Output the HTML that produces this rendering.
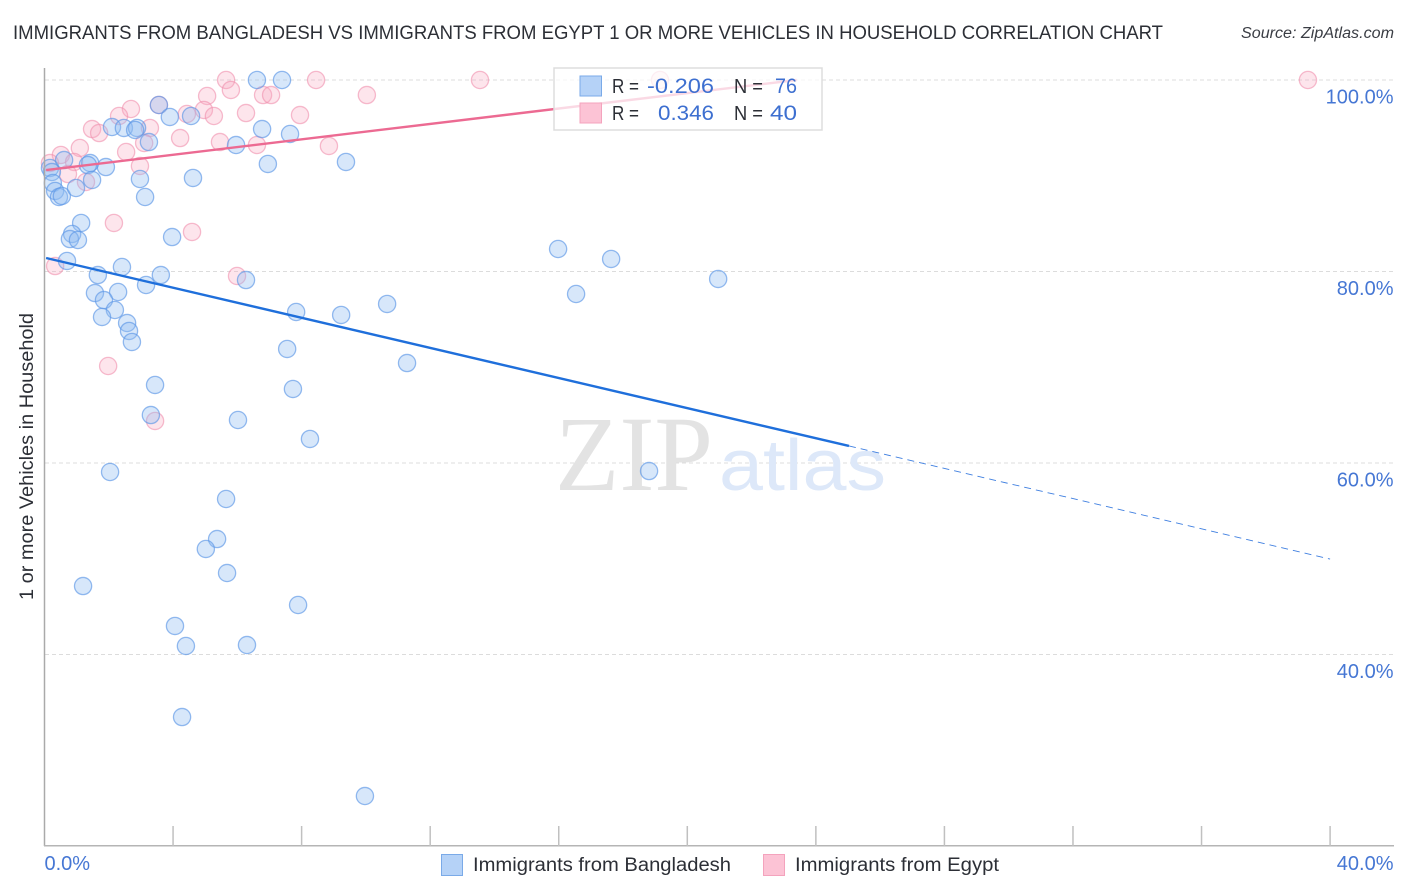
<!DOCTYPE html>
<html lang="en">
<head>
<meta charset="utf-8">
<title>Immigrants from Bangladesh vs Immigrants from Egypt Correlation Chart</title>
<style>
html,body{margin:0;padding:0;background:#fff;}
svg{display:block;font-family:"Liberation Sans",sans-serif;}
</style>
</head>
<body>
<svg id="chart" xmlns="http://www.w3.org/2000/svg" width="1406" height="892" viewBox="0 0 1406 892">
  <rect x="0" y="0" width="1406" height="892" fill="#ffffff"/>
  <text x="13" y="39" font-size="19.5" fill="#2c2f36" textLength="1150" lengthAdjust="spacingAndGlyphs">IMMIGRANTS FROM BANGLADESH VS IMMIGRANTS FROM EGYPT 1 OR MORE VEHICLES IN HOUSEHOLD CORRELATION CHART</text>
  <text x="1241" y="38" font-size="15.5" font-style="italic" fill="#3a3d44" textLength="153" lengthAdjust="spacingAndGlyphs">Source: ZipAtlas.com</text>
  <g id="grid"></g>
  <g>
    <text x="555" y="490" font-family="'Liberation Serif',serif" font-size="107" fill="#e3e3e3" textLength="158" lengthAdjust="spacingAndGlyphs">ZIP</text>
    <text x="719" y="490" font-size="72" fill="#dde8f9" textLength="167" lengthAdjust="spacingAndGlyphs">atlas</text>
  </g>
  <g id="pink-points"></g>
  <g id="blue-points"></g>
  <g id="trends"></g>
  <g id="axes"></g>
  <text transform="translate(33,456.5) rotate(-90)" text-anchor="middle" font-size="19" fill="#2c2f36" textLength="287" lengthAdjust="spacingAndGlyphs">1 or more Vehicles in Household</text>

  <g>
    <rect x="554" y="68" width="268" height="62" fill="#ffffff" fill-opacity="0.75" stroke="#dddddd" stroke-width="1.5"/>
    <rect x="580" y="76" width="21.5" height="20" fill="#b5d2f7" stroke="#7aaae8" stroke-width="1"/>
    <rect x="580" y="103" width="21.5" height="20" fill="#fcc3d5" stroke="#f4a3bd" stroke-width="1"/>
    <g font-size="20" fill="#2c2f36">
      <text x="612" y="93" textLength="27" lengthAdjust="spacingAndGlyphs">R =</text>
      <text x="734" y="93" textLength="29" lengthAdjust="spacingAndGlyphs">N =</text>
      <text x="612" y="120" textLength="27" lengthAdjust="spacingAndGlyphs">R =</text>
      <text x="734" y="120" textLength="29" lengthAdjust="spacingAndGlyphs">N =</text>
    </g>
    <g font-size="21" fill="#3d6fd0">
      <text x="647" y="93" textLength="67" lengthAdjust="spacingAndGlyphs">-0.206</text>
      <text x="775" y="93" textLength="22" lengthAdjust="spacingAndGlyphs">76</text>
      <text x="658" y="120" textLength="56" lengthAdjust="spacingAndGlyphs">0.346</text>
      <text x="770" y="120" textLength="27" lengthAdjust="spacingAndGlyphs">40</text>
    </g>
  </g>

  <g>
    <rect x="441.5" y="854.5" width="21" height="21" fill="#b5d2f7" stroke="#7aaae8" stroke-width="1"/>
    <text x="473" y="871" font-size="19" fill="#2c2f36" textLength="258" lengthAdjust="spacingAndGlyphs">Immigrants from Bangladesh</text>
    <rect x="763.5" y="854.5" width="21" height="21" fill="#fcc3d5" stroke="#f4a3bd" stroke-width="1"/>
    <text x="795" y="871" font-size="19" fill="#2c2f36" textLength="204" lengthAdjust="spacingAndGlyphs">Immigrants from Egypt</text>
  </g>
</svg>
<script>
var bangladeshX = [6.61,7.39,3.56,3.90,4.56,2.10,2.47,2.88,2.82,6.77,7.64,3.25,5.96,6.95,9.38,1.42,1.35,1.91,4.62,2.97,1.48,0.17,0.23,0.26,0.33,0.45,0.54,0.98,0.61,3.13,1.14,0.86,0.79,1.04,3.97,0.70,2.41,1.66,3.62,3.16,1.57,2.29,1.85,6.27,2.19,1.79,2.57,2.63,2.72,7.83,9.23,10.66,7.55,11.28,3.44,7.73,3.31,6.02,8.26,2.04,5.65,5.37,5.02,5.68,1.20,7.89,4.06,4.40,6.30,4.28,9.97,15.98,17.63,16.54,20.96,18.81];
var bangladeshY = [100,100,97.39,96.14,96.24,95.09,94.99,94.99,94.78,94.88,94.36,93.52,93.21,91.23,91.44,91.33,91.12,90.91,89.77,89.66,89.56,90.81,90.39,89.24,88.41,87.78,87.89,88.72,91.64,87.78,85.07,83.92,83.39,83.29,83.60,81.10,80.47,79.63,79.63,78.59,77.75,77.86,77.02,79.11,75.98,75.25,74.62,73.79,72.64,75.77,75.46,76.61,71.91,70.44,68.15,67.73,65.01,64.49,62.51,59.06,56.24,52.06,51.02,48.51,47.15,45.17,42.98,40.89,40.99,33.47,25.22,82.35,81.31,77.65,79.22,59.16];
var egyptX = [5.65,5.80,5.06,6.80,7.05,8.45,2.69,2.32,3.56,4.43,4.96,5.27,6.27,7.95,3.28,1.48,1.70,3.10,4.22,5.46,6.61,8.85,1.10,2.54,2.97,0.51,0.92,0.73,1.29,0.17,2.16,4.59,0.33,5.99,1.98,3.44,10.03,13.55,19.15,39.31];
var egyptY = [100,98.96,98.33,98.43,98.43,100,96.97,96.24,97.39,96.45,96.87,96.24,96.55,96.34,94.99,94.88,94.46,93.42,93.94,93.52,93.21,93.11,92.90,92.48,91.02,92.17,91.44,90.18,89.35,91.33,85.07,84.13,80.57,79.53,70.13,64.39,98.43,100,100,100];
var bangladeshTrendX = [0.05,25.03];
var bangladeshTrendY = [81.41,61.78];
var bangladeshForecastX = [25.03,40];
var bangladeshForecastY = [61.78,49.97];
var egyptTrendX = [0.05,23.4];
var egyptTrendY = [90.6,100];
var yTickValues = [100,80,60,40];
var yTickLabels = ['100.0%','80.0%','60.0%','40.0%'];
var xTickValues = [4,8,12,16,20,24,28,32,36,40];
var xEndValues = [0,40];
var xEndLabels = ['0.0%','40.0%'];

var SVG_NS = 'http://www.w3.org/2000/svg';
function xScale(v){ return 44.5 + v * 32.14; }
function yScale(v){ return 80 + (100 - v) * 9.575; }
function make(tag, parent, attrs){
  var el = document.createElementNS(SVG_NS, tag);
  for (var k in attrs) el.setAttribute(k, attrs[k]);
  parent.appendChild(el);
  return el;
}

var grid = document.getElementById('grid');
var axes = document.getElementById('axes');
yTickValues.forEach(function(v, i){
  var line = make('line', grid, {x1:45, x2:1393, y1:yScale(v), y2:yScale(v), stroke:'#dcdcdc', 'stroke-width':1, 'stroke-dasharray':'4 3'});
  
  
  var label = make('text', axes, {x:1393.5, y:yScale(v) + 23.5, 'text-anchor':'end', 'font-size':20, fill:'#4677d4'});
  label.textContent = yTickLabels[i];
  
  
});

var yAxisLine = make('line', axes, {x1:44.5, x2:44.5, y1:68, y2:846, stroke:'#aaaaaa', 'stroke-width':1.5});


var xAxisLine = make('line', axes, {x1:44, x2:1394, y1:845.7, y2:845.7, stroke:'#b5b5b5', 'stroke-width':1.5});


xTickValues.forEach(function(v){
  var tick = make('line', axes, {x1:xScale(v), x2:xScale(v), y1:826, y2:846, stroke:'#c0c0c0', 'stroke-width':1.5});
  
  
});
xEndValues.forEach(function(v, i){
  var anchor = i === 0 ? 'start' : 'end';
  var px = i === 0 ? xScale(v) : 1393.5;
  var label = make('text', axes, {x:px, y:870, 'text-anchor':anchor, 'font-size':20, fill:'#4677d4'});
  label.textContent = xEndLabels[i];
  
  
});

var pinkGroup = document.getElementById('pink-points');
egyptX.forEach(function(v, i){
  var c = make('circle', pinkGroup, {cx:xScale(v), cy:yScale(egyptY[i]), r:8.6, fill:'#f9a8c0', 'fill-opacity':0.3, stroke:'#f08fae', 'stroke-opacity':0.6, 'stroke-width':1.3});
  
  
});
var blueGroup = document.getElementById('blue-points');
bangladeshX.forEach(function(v, i){
  var c = make('circle', blueGroup, {cx:xScale(v), cy:yScale(bangladeshY[i]), r:8.6, fill:'#8fbcf2', 'fill-opacity':0.36, stroke:'#5c96e6', 'stroke-opacity':0.65, 'stroke-width':1.3});
  
  
});

var trends = document.getElementById('trends');
var forecast = make('line', trends, {x1:xScale(bangladeshForecastX[0]), y1:yScale(bangladeshForecastY[0]), x2:xScale(bangladeshForecastX[1]), y2:yScale(bangladeshForecastY[1]), stroke:'#3f7fe0', 'stroke-width':0.9, 'stroke-dasharray':'7 5'});


var blueTrend = make('line', trends, {x1:xScale(bangladeshTrendX[0]), y1:yScale(bangladeshTrendY[0]), x2:xScale(bangladeshTrendX[1]), y2:yScale(bangladeshTrendY[1]), stroke:'#1f6fdb', 'stroke-width':2.4});


var pinkTrend = make('line', trends, {x1:xScale(egyptTrendX[0]), y1:yScale(egyptTrendY[0]), x2:xScale(egyptTrendX[1]), y2:yScale(egyptTrendY[1]), stroke:'#ec6a92', 'stroke-width':2.4});


</script>
</body>
</html>
